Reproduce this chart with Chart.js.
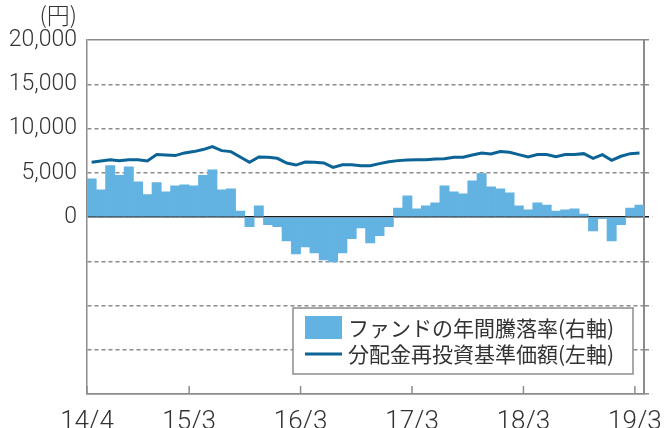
<!DOCTYPE html>
<html>
<head>
<meta charset="utf-8">
<script src="https://cdn.jsdelivr.net/npm/chart.js@4.4.1/dist/chart.umd.min.js"></script>
<style>
  body { margin: 0; background: #fff; }
  canvas { display: block; }
</style>
</head>
<body>
<canvas id="chart" width="667" height="428"></canvas>
<script>
// months 14/4 .. 19/3
var months = [
	'14/4','14/5','14/6','14/7','14/8','14/9','14/10','14/11','14/12','15/1','15/2','15/3',
	'15/4','15/5','15/6','15/7','15/8','15/9','15/10','15/11','15/12','16/1','16/2','16/3',
	'16/4','16/5','16/6','16/7','16/8','16/9','16/10','16/11','16/12','17/1','17/2','17/3',
	'17/4','17/5','17/6','17/7','17/8','17/9','17/10','17/11','17/12','18/1','18/2','18/3',
	'18/4','18/5','18/6','18/7','18/8','18/9','18/10','18/11','18/12','19/1','19/2','19/3'
]
var tickLabels = ['14/4', '15/3', '16/3', '17/3', '18/3', '19/3']

// ファンドの年間騰落率 (%), right axis
var fundReturn = [
	21.6, 15.4, 29.0, 23.5, 28.4, 19.9, 12.7, 19.4, 14.2, 17.6, 18.2, 17.6,
	23.5, 26.7, 15.4, 15.9, 3.4, -5.5, 6.3, -4.4, -5.5, -13.5, -20.9, -16.9,
	-20.3, -24.3, -25.4, -20.3, -12.3, -6.1, -14.6, -10.6, -5.5, 5.1, 12.0, 4.6,
	6.3, 8.0, 17.6, 14.2, 13.1, 20.5, 24.5, 17.1, 15.9, 13.7, 6.3, 4.0,
	8.0, 6.8, 3.4, 4.0, 4.6, 1.7, -7.8, -1.0, -13.5, -4.4, 5.1, 6.8
]

// 分配金再投資基準価額 (円), left axis
var navReinvested = [
	6180, 6330, 6480, 6370, 6480, 6480, 6330, 7050, 7010, 6940, 7240, 7390,
	7620, 7960, 7500, 7390, 6780, 6180, 6780, 6750, 6630, 6100, 5870, 6220,
	6180, 6100, 5610, 5910, 5910, 5800, 5800, 6030, 6250, 6370, 6440, 6480,
	6480, 6560, 6590, 6750, 6750, 7010, 7240, 7130, 7390, 7310, 7050, 6780,
	7050, 7050, 6820, 7050, 7050, 7160, 6630, 7050, 6400, 6860, 7160, 7240
]

var legendLabels = ['ファンドの年間騰落率(右軸)', '分配金再投資基準価額(左軸)']

var barColor = '#62b2e2'
var lineColor = '#0b6396'
var gridGray = '#8c8c8c'
var textColor = '#333333'
var jpFont = "'Noto Sans CJK JP', 'Noto Sans', sans-serif"

Chart.defaults.font.family = "'Roboto', 'Liberation Sans', sans-serif"
Chart.defaults.color = textColor

// inward tick marks on the x axis, "(円)" and the boxed legend
var extras = {
	id: 'extras',
	afterDatasetsDraw: function(chart) {
		var ctx = chart.ctx
		var x = chart.scales.x
		var area = chart.chartArea

		ctx.save()
		ctx.strokeStyle = gridGray
		ctx.lineWidth = 1.5
		tickLabels.forEach(function(l) {
			var px = x.getPixelForValue(months.indexOf(l))
			ctx.beginPath()
			ctx.moveTo(px, area.bottom)
			ctx.lineTo(px, area.bottom - 8)
			ctx.stroke()
		})

		ctx.fillStyle = textColor
		ctx.font = '300 23px ' + jpFont
		ctx.textAlign = 'right'
		ctx.textBaseline = 'middle'
		ctx.fillText('(円)', 77, 15)

		// legend box
		ctx.fillStyle = '#fff'
		ctx.fillRect(293, 308, 340, 66)
		ctx.strokeStyle = gridGray
		ctx.lineWidth = 1.5
		ctx.strokeRect(293, 308, 340, 66)

		ctx.fillStyle = chart.data.datasets[1].backgroundColor
		ctx.fillRect(305, 316, 37, 23)
		ctx.strokeStyle = chart.data.datasets[0].borderColor
		ctx.lineWidth = 3
		ctx.beginPath()
		ctx.moveTo(305, 354)
		ctx.lineTo(342, 354)
		ctx.stroke()

		ctx.fillStyle = textColor
		ctx.font = '21px ' + jpFont
		ctx.textAlign = 'left'
		ctx.fillText(legendLabels[0], 348, 328)
		ctx.fillText(legendLabels[1], 348, 354)
		ctx.restore()
	}
}

var ctx = document.getElementById('chart').getContext('2d')
var chart = new Chart(ctx, {
	type: 'bar',
	data: {
		datasets: [{
			type: 'line',
			label: legendLabels[1],
			data: navReinvested.map((v, i) => ({ x: i + 0.5, y: v })),
			borderColor: lineColor,
			borderWidth: 3,
			pointRadius: 0,
			tension: 0,
			yAxisID: 'y'
		}, {
			type: 'bar',
			label: legendLabels[0],
			data: fundReturn.map((v, i) => ({ x: i + 0.5, y: v })),
			backgroundColor: barColor,
			barPercentage: 1,
			categoryPercentage: 1,
			yAxisID: 'y1'
		}]
	},
	options: {
		responsive: false,
		animation: false,
		layout: { padding: { top: 40, left: 0, right: 0, bottom: 0 } },
		plugins: {
			legend: { display: false },
			tooltip: { enabled: false }
		},
		scales: {
			x: {
				type: 'linear',
				min: 0,
				max: months.length,
				offset: false,
				afterBuildTicks: function(s) {
					s.ticks = tickLabels.map(l => ({ value: months.indexOf(l) }))
				},
				afterFit: function(s) { s.height = 34 },
				ticks: {
					autoSkip: false,
					maxRotation: 0,
					padding: 5,
					font: { size: 26, weight: 300 },
					color: textColor,
					callback: function(v) { return months[v] }
				},
				grid: { display: false, offset: false },
				border: { display: true, color: gridGray, width: 1.5 }
			},
			y: {
				position: 'left',
				min: -20000,
				max: 20000,
				afterFit: function(s) { s.width = 87 },
				ticks: {
					stepSize: 5000,
					padding: 10,
					font: { size: 23, weight: 300 },
					color: textColor,
					callback: function(v) { return v < 0 ? '' : v.toLocaleString('en-US') }
				},
				grid: {
					drawTicks: false,
					color: c => c.tick && c.tick.value === 0 ? '#1a1a1a' : gridGray,
					lineWidth: 1.5
				},
				border: {
					display: true,
					color: gridGray,
					width: 1.5,
					dash: c => (c.tick && (c.tick.value === 0 || Math.abs(c.tick.value) === 20000)) ? [] : [4, 3]
				}
			},
			y1: {
				position: 'right',
				min: -100,
				max: 100,
				afterFit: function(s) { s.width = 20 },
				ticks: { display: false, stepSize: 25 },
				grid: {
					drawOnChartArea: false,
					drawTicks: true,
					tickLength: 8,
					tickColor: c => c.tick && c.tick.value === 0 ? '#1a1a1a' : gridGray,
					tickBorderDash: [4, 3],
					lineWidth: 1.5
				},
				border: { display: true, color: gridGray, width: 2 }
			}
		}
	},
	plugins: [extras]
});
</script>
</body>
</html>
